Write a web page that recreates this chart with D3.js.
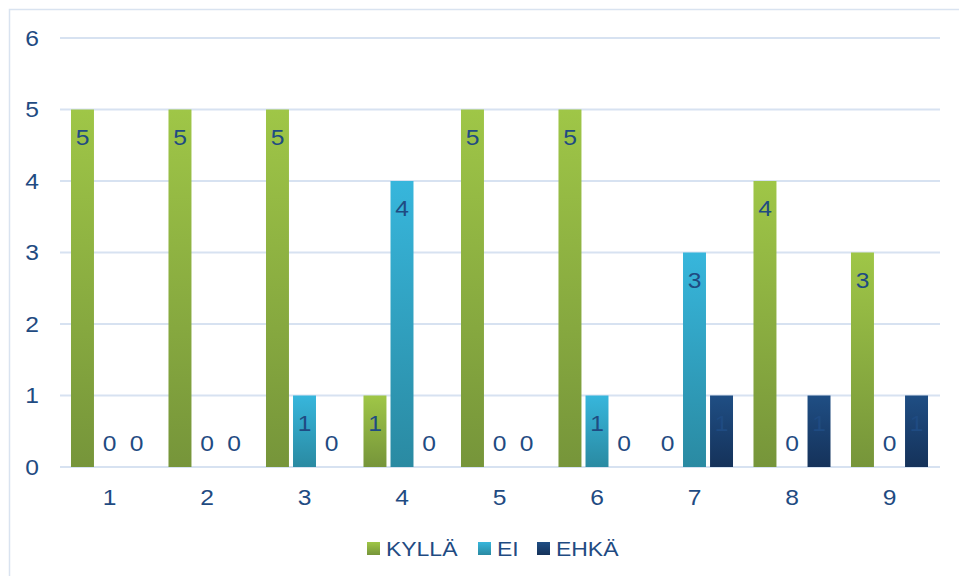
<!DOCTYPE html>
<html>
<head>
<meta charset="utf-8">
<script src="https://cdn.jsdelivr.net/npm/d3@7"></script>
<style>
  body { margin: 0; background: #fff; }
  svg { font-family: "Liberation Sans", Arial, sans-serif; }
</style>
</head>
<body>
<svg id="chart" width="959" height="576"></svg>
<script>
const categories = ["1", "2", "3", "4", "5", "6", "7", "8", "9"];
const seriesNames = ["KYLLÄ", "EI", "EHKÄ"];
const kylla = [5, 5, 5, 1, 5, 5, 0, 4, 3];
const ei = [0, 0, 1, 4, 0, 1, 3, 0, 0];
const ehka = [0, 0, 0, 0, 0, 0, 1, 1, 1];
const yTicks = [0, 1, 2, 3, 4, 5, 6];

const seriesValues = [kylla, ei, ehka];
const gradients = [
  ["#9fc647", "#76953a"],
  ["#37b6dc", "#2a8aa2"],
  ["#1f4e84", "#15325a"]
];
const textColor = "#1f4b82";
const stretch = 1.12; // text in the reference is slightly wide

const width = 959;
const height = 576;
const margin = { top: 38, right: 21, bottom: 109, left: 61 };

const svg = d3.select("#chart");

const place = (x, y) => `translate(${x},${y}) scale(${stretch},1)`;

// gradient fills, one per series
const defs = svg.append("defs");
seriesNames.forEach((name, i) => {
  const g = defs.append("linearGradient")
    .attr("id", "grad" + i)
    .attr("x1", 0).attr("y1", 0).attr("x2", 0).attr("y2", 1);
  g.append("stop").attr("offset", "0%").attr("stop-color", gradients[i][0]);
  g.append("stop").attr("offset", "100%").attr("stop-color", gradients[i][1]);
});

// outer frame
svg.append("path")
  .attr("d", `M9.5,${height} V9.5 H${width}`)
  .attr("fill", "none")
  .attr("stroke", "#d9e3f0")
  .attr("stroke-width", 1.5);

const x0 = d3.scaleBand()
  .domain(categories)
  .range([margin.left, width - margin.right])
  .paddingInner(0.21)
  .paddingOuter(0.1025);

const x1 = d3.scaleBand()
  .domain(seriesNames)
  .range([0, x0.bandwidth()])
  .paddingInner(0.15);

const y = d3.scaleLinear()
  .domain([0, 6])
  .range([height - margin.bottom, margin.top]);

// gridlines
svg.append("g")
  .selectAll("line")
  .data(yTicks)
  .join("line")
  .attr("x1", 60)
  .attr("x2", 940)
  .attr("y1", (d) => y(d))
  .attr("y2", (d) => y(d))
  .attr("stroke", "#d7e2f1")
  .attr("stroke-width", 2);

// y tick labels
svg.append("g")
  .selectAll("text")
  .data(yTicks)
  .join("text")
  .attr("transform", (d) => place(39, y(d)))
  .attr("dy", "0.36em")
  .attr("text-anchor", "end")
  .attr("fill", textColor)
  .style("font-size", "22px")
  .text((d) => d);

// x tick labels
svg.append("g")
  .selectAll("text")
  .data(categories)
  .join("text")
  .attr("transform", (d) => place(x0(d) + x0.bandwidth() / 2, 497))
  .attr("dy", "0.36em")
  .attr("text-anchor", "middle")
  .attr("fill", textColor)
  .style("font-size", "22px")
  .text((d) => d);

// bars
const rows = [];
categories.forEach((c, ci) => {
  seriesNames.forEach((s, si) => {
    rows.push({ cat: c, series: s, si, value: seriesValues[si][ci] });
  });
});

svg.append("g")
  .selectAll("rect")
  .data(rows.filter((d) => d.value > 0))
  .join("rect")
  .attr("x", (d) => x0(d.cat) + x1(d.series))
  .attr("y", (d) => y(d.value))
  .attr("width", x1.bandwidth())
  .attr("height", (d) => y(0) - y(d.value))
  .attr("fill", (d) => `url(#grad${d.si})`);

// value labels
svg.append("g")
  .selectAll("text")
  .data(rows)
  .join("text")
  .attr("transform", (d) => place(
    x0(d.cat) + x1(d.series) + x1.bandwidth() / 2,
    d.value > 0 ? y(d.value) + 27.5 : y(0) - 24))
  .attr("dy", "0.36em")
  .attr("text-anchor", "middle")
  .attr("fill", textColor)
  .style("font-size", "22px")
  .text((d) => d.value);

// legend
const legendItems = [
  { name: "KYLLÄ", x: 367 },
  { name: "EI", x: 478 },
  { name: "EHKÄ", x: 537 }
];
const legend = svg.append("g");
legendItems.forEach((item, i) => {
  legend.append("rect")
    .attr("x", item.x)
    .attr("y", 542)
    .attr("width", 13)
    .attr("height", 13)
    .attr("fill", `url(#grad${i})`);
  legend.append("text")
    .attr("transform", place(item.x + 19, 548.5))
    .attr("dy", "0.36em")
    .attr("fill", textColor)
    .style("font-size", "20.5px")
    .text(item.name);
});
</script>
</body>
</html>
